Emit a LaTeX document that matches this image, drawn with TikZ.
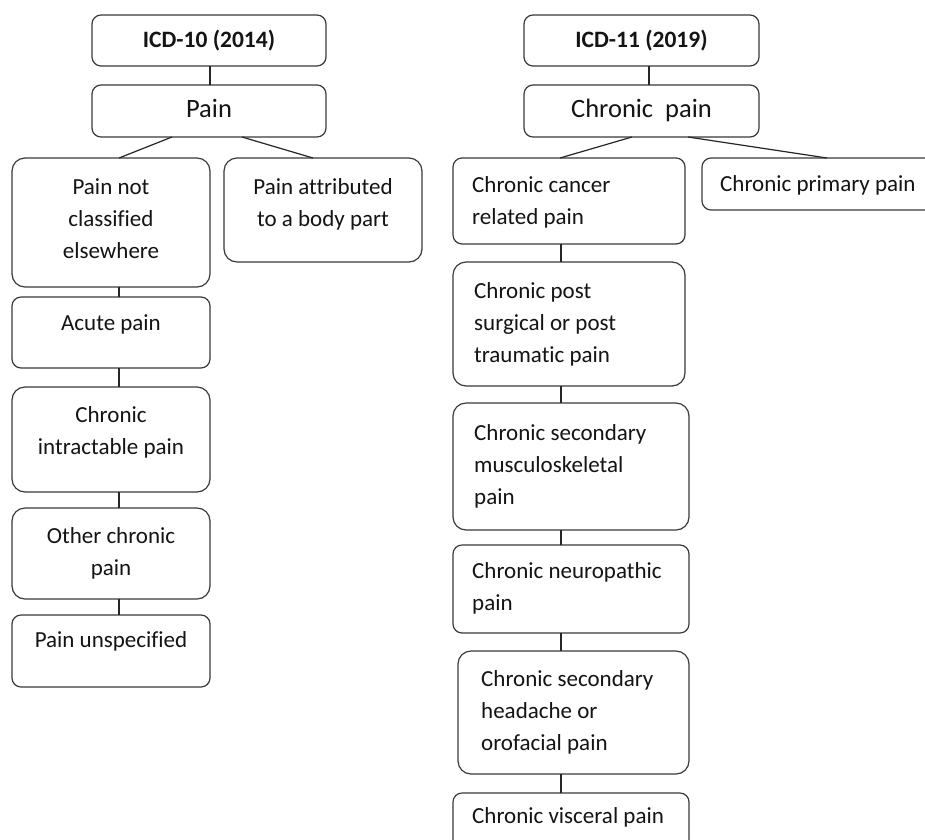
\documentclass[tikz,border=0pt]{standalone}
\usepackage{fontspec}
\setmainfont{Carlito}[Ligatures=NoCommon]
\definecolor{boxc}{HTML}{3A3A3A}
\definecolor{txtc}{HTML}{141414}
\newcommand{\fl}{\rule{0pt}{17pt}}
\begin{document}
\begin{tikzpicture}[x=1pt,y=-1pt,
  box/.style={draw=boxc, line width=1.2pt, rounded corners=9pt, inner sep=0pt, outer sep=0pt, anchor=north west},
  bigbox/.style={box, rounded corners=13pt},
  lt/.style={font=\fontsize{23}{32}\selectfont, text=txtc, inner sep=0pt, anchor=north, align=center},
  rt/.style={lt, anchor=north west, align=left},
  ttl/.style={font=\fontsize{26.5}{32}\selectfont, text=txtc, inner sep=0pt, anchor=base},
  bttl/.style={font=\fontsize{23.5}{32}\selectfont\bfseries, text=txtc, inner sep=0pt, anchor=base},
  conn/.style={draw=black!85, line width=1.2pt}]
\useasboundingbox (0,0) rectangle (925,839);
\clip (0,0) rectangle (925,839);
\fill[white] (0,0) rectangle (925,839);
\coordinate (lc) at (119,0);
\coordinate (rc) at (561,0);
\coordinate (tl) at (210,0);
\coordinate (tr) at (649,0);
% left column
\node[box, minimum width=234pt, minimum height=51pt] (icdx) at (92,15) {};
\node[box, minimum width=234pt, minimum height=52pt] (pain) at (92,85) {};
\node[bigbox, minimum width=198pt, minimum height=129pt] (pnc) at (12,158) {};
\node[bigbox, minimum width=198pt, minimum height=104pt] (pab) at (224,158) {};
\node[box, minimum width=198pt, minimum height=71pt] (acute) at (12,297) {};
\node[bigbox, minimum width=198pt, minimum height=105pt] (cip) at (12,387) {};
\node[bigbox, minimum width=198pt, minimum height=91pt] (ocp) at (12,508) {};
\node[box, minimum width=198pt, minimum height=72pt] (pu) at (12,615) {};
% right column
\node[box, minimum width=235pt, minimum height=51pt] (icdxi) at (524,15) {};
\node[box, minimum width=235pt, minimum height=52pt] (cpain) at (524,85) {};
\node[box, minimum width=232pt, minimum height=86pt] (ccr) at (453,158) {};
\node[box, minimum width=260pt, minimum height=52pt] (cpp) at (702,158) {};
\node[bigbox, minimum width=232pt, minimum height=124pt] (cpst) at (453,262) {};
\node[bigbox, minimum width=236pt, minimum height=127pt] (csm) at (453,403) {};
\node[box, minimum width=236pt, minimum height=88pt] (cnp) at (453,545) {};
\node[bigbox, minimum width=231pt, minimum height=123pt] (csh) at (458,651) {};
\node[box, minimum width=236pt, minimum height=70pt] (cvp) at (453,793) {};
% titles
\node[bttl] at ([yshift=-6.5pt]icdx.center) {ICD-10 (2014)};
\node[ttl] at ([yshift=-6pt]pain.center) {Pain};
\node[bttl] at ([yshift=-6.5pt]icdxi.center) {ICD-11 (2019)};
\node[ttl] at ([yshift=-6pt]cpain.center) {Chronic\ \ pain};
% left texts
\node[lt] at ([yshift=-19pt]pnc.north) {\fl Pain not\\classified\\elsewhere};
\node[lt] at ([yshift=-19pt]pab.north) {\fl Pain attributed\\to a body part};
\node[lt] at ([yshift=-16pt]acute.north) {\fl Acute pain};
\node[lt] at ([yshift=-18pt]cip.north) {\fl Chronic\\intractable pain};
\node[lt] at ([yshift=-18pt]ocp.north) {\fl Other chronic\\pain};
\node[lt] at ([yshift=-15pt]pu.north) {\fl Pain unspecified};
% right texts
\node[rt] at ([xshift=19pt,yshift=-17pt]ccr.north west) {\fl Chronic cancer\\related pain};
\node[rt] at ([xshift=18pt,yshift=-16pt]cpp.north west) {\fl Chronic primary pain};
\node[rt] at ([xshift=21pt,yshift=-19pt]cpst.north west) {\fl Chronic post\\surgical or post\\traumatic pain};
\node[rt] at ([xshift=21pt,yshift=-20pt]csm.north west) {\fl Chronic secondary\\musculoskeletal\\pain};
\node[rt] at ([xshift=19pt,yshift=-16pt]cnp.north west) {\fl Chronic neuropathic\\pain};
\node[rt] at ([xshift=23pt,yshift=-18pt]csh.north west) {\fl Chronic secondary\\headache or\\orofacial pain};
\node[rt] at ([xshift=19pt,yshift=-13pt]cvp.north west) {\fl Chronic visceral pain};
% connectors left
\draw[conn] (icdx.south -| tl) -- (pain.north -| tl);
\draw[conn] ([xshift=80pt]pain.south west) -- ([xshift=107pt]pnc.north west);
\draw[conn] ([xshift=150pt]pain.south west) -- ([xshift=89pt]pab.north west);
\draw[conn] (pnc.south -| lc) -- (acute.north -| lc);
\draw[conn] (acute.south -| lc) -- (cip.north -| lc);
\draw[conn] (cip.south -| lc) -- (ocp.north -| lc);
\draw[conn] (ocp.south -| lc) -- (pu.north -| lc);
% connectors right
\draw[conn] (icdxi.south -| tr) -- (cpain.north -| tr);
\draw[conn] ([xshift=108pt]cpain.south west) -- ([xshift=107pt]ccr.north west);
\draw[conn] ([xshift=164pt]cpain.south west) -- ([xshift=125pt]cpp.north west);
\draw[conn] (ccr.south -| rc) -- (cpst.north -| rc);
\draw[conn] (cpst.south -| rc) -- (csm.north -| rc);
\draw[conn] (csm.south -| rc) -- (cnp.north -| rc);
\draw[conn] (cnp.south -| rc) -- (csh.north -| rc);
\draw[conn] (csh.south -| rc) -- (cvp.north -| rc);
\end{tikzpicture}
\end{document}
